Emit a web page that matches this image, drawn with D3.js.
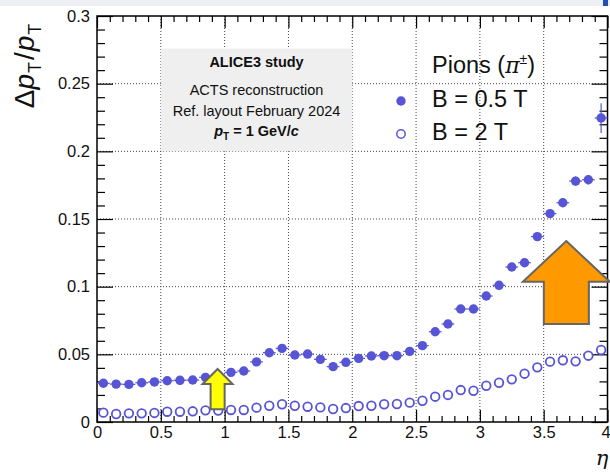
<!DOCTYPE html>
<html>
<head>
<meta charset="utf-8">
<script src="https://cdn.jsdelivr.net/npm/d3@7"></script>
<style>
html,body{margin:0;padding:0;background:#fff;}
svg{display:block;font-family:"Liberation Sans",Arial,Helvetica,sans-serif;}
</style>
</head>
<body>
<svg id="chart" width="610" height="475"></svg>
<script>
// ---- data ----
const etaBins = [0.05,0.15,0.25,0.35,0.45,0.55,0.65,0.75,0.85,0.95,
                 1.05,1.15,1.25,1.35,1.45,1.55,1.65,1.75,1.85,1.95,
                 2.05,2.15,2.25,2.35,2.45,2.55,2.65,2.75,2.85,2.95,
                 3.05,3.15,3.25,3.35,3.45,3.55,3.65,3.75,3.85,3.95];
const resB05 = [0.0286,0.0280,0.0278,0.0290,0.0296,0.0305,0.0308,0.0310,0.0330,0.0345,
                0.0367,0.0377,0.0444,0.0512,0.0544,0.0495,0.0502,0.0463,0.0409,0.0441,
                0.0470,0.0488,0.0490,0.0490,0.0522,0.0564,0.0667,0.0724,0.0835,0.0835,
                0.0931,0.1010,0.1145,0.1177,0.1370,0.1540,0.1620,0.1780,0.1790,0.2246];
const errB05 = [0.0003,0.0003,0.0003,0.0003,0.0003,0.0003,0.0003,0.0003,0.0003,0.0003,
                0.0003,0.0003,0.0003,0.0004,0.0004,0.0004,0.0004,0.0004,0.0004,0.0004,
                0.0004,0.0004,0.0004,0.0005,0.0005,0.0005,0.0006,0.0006,0.0008,0.0008,
                0.0009,0.0010,0.0012,0.0012,0.0015,0.0020,0.0025,0.0035,0.0035,0.0110];
const resB2  = [0.0069,0.0059,0.0064,0.0064,0.0067,0.0076,0.0076,0.0079,0.0086,0.0085,
                0.0089,0.0089,0.0106,0.0120,0.0131,0.0120,0.0113,0.0108,0.0096,0.0103,
                0.0118,0.0120,0.0131,0.0133,0.0143,0.0157,0.0187,0.0200,0.0236,0.0231,
                0.0268,0.0290,0.0315,0.0357,0.0404,0.0446,0.0456,0.0448,0.0490,0.0532];
const xMajorTicks = [0,0.5,1,1.5,2,2.5,3,3.5,4];
const yMajorTicks = [0,0.05,0.1,0.15,0.2,0.25,0.3];
const boxLines = ["ALICE3 study","ACTS reconstruction","Ref. layout February 2024"];
const legendLabels = ["B = 0.5 T","B = 2 T"];

// ---- setup ----
const svg = d3.select("#chart");
const color = "#5755d6";
const x = d3.scaleLinear().domain([0,4]).range([97,607.5]);
const y = d3.scaleLinear().domain([0,0.3]).range([422,16]);
const xMinor = d3.range(0,4.0001,0.1).filter(v=>Math.abs(v*2-Math.round(v*2))>1e-6);
const yMinor = d3.range(0,0.3001,0.01).filter(v=>Math.abs(v*20-Math.round(v*20))>1e-6);
const fmt = d3.format("~g");

// top screenshot strip
svg.append("rect").attr("x",0).attr("y",0).attr("width",610).attr("height",6).attr("fill","#eef0f4");
svg.append("rect").attr("x",603).attr("y",0).attr("width",5).attr("height",6).attr("fill","#1f4fb8");

// grid
const grid = svg.append("g").attr("stroke","#444").attr("stroke-width",1).attr("stroke-dasharray","1,2");
xMajorTicks.slice(1,-1).forEach(v=>{
  grid.append("line").attr("x1",x(v)).attr("x2",x(v)).attr("y1",y(0)).attr("y2",y(0.3));
});
yMajorTicks.slice(1,-1).forEach(v=>{
  grid.append("line").attr("x1",x(0)).attr("x2",x(4)).attr("y1",y(v)).attr("y2",y(v));
});

// info box
svg.append("rect").attr("x",x(0.5)).attr("y",y(0.276)).attr("width",x(2.0)-x(0.5))
   .attr("height",y(0.2)-y(0.276)).attr("fill","#efefef");
const cx = x(1.25);
const bl = [67,95,116];
boxLines.forEach((t,i)=>{
  svg.append("text").attr("x",cx).attr("y",bl[i]).attr("text-anchor","middle")
     .attr("font-size",14.5).attr("font-weight",i===0?"bold":"normal").attr("fill","#111").text(t);
});
const pt = svg.append("text").attr("x",cx).attr("y",136).attr("text-anchor","middle")
   .attr("font-size",14.5).attr("font-weight","bold").attr("fill","#111");
pt.append("tspan").attr("font-style","italic").text("p");
pt.append("tspan").attr("font-size",10).attr("dy",4).text("T");
pt.append("tspan").attr("dy",-4).text(" = 1 GeV/");
pt.append("tspan").attr("font-style","italic").text("c");

// axes
function styleAxis(g){ g.select(".domain").remove(); g.selectAll(".tick line").attr("stroke","#000").attr("stroke-width",1.2); g.selectAll("text").attr("font-size",16.5).attr("fill","#111").attr("font-family","Liberation Sans, Arial, sans-serif"); }
svg.append("g").attr("transform",`translate(0,${y(0)})`)
  .call(d3.axisBottom(x).tickValues(xMajorTicks).tickSize(-12).tickPadding(4).tickFormat(fmt)).call(styleAxis)
  .call(g=>g.selectAll(".tick text").filter(d=>d===4).attr("dx",-2));
svg.append("g").attr("transform",`translate(0,${y(0)})`)
  .call(d3.axisBottom(x).tickValues(xMinor).tickSize(-6).tickFormat("")).call(styleAxis);
svg.append("g").attr("transform",`translate(0,${y(0.3)})`)
  .call(d3.axisTop(x).tickValues(xMajorTicks).tickSize(-12).tickFormat("")).call(styleAxis);
svg.append("g").attr("transform",`translate(0,${y(0.3)})`)
  .call(d3.axisTop(x).tickValues(xMinor).tickSize(-6).tickFormat("")).call(styleAxis);
svg.append("g").attr("transform",`translate(${x(0)},0)`)
  .call(d3.axisLeft(y).tickValues(yMajorTicks).tickSize(-16).tickPadding(7).tickFormat(fmt)).call(styleAxis);
svg.append("g").attr("transform",`translate(${x(0)},0)`)
  .call(d3.axisLeft(y).tickValues(yMinor).tickSize(-8).tickFormat("")).call(styleAxis);
svg.append("g").attr("transform",`translate(${x(4)},0)`)
  .call(d3.axisRight(y).tickValues(yMajorTicks).tickSize(-16).tickFormat("")).call(styleAxis);
svg.append("g").attr("transform",`translate(${x(4)},0)`)
  .call(d3.axisRight(y).tickValues(yMinor).tickSize(-8).tickFormat("")).call(styleAxis);

// frame
svg.append("rect").attr("x",x(0)).attr("y",y(0.3)).attr("width",x(4)-x(0)).attr("height",y(0)-y(0.3))
   .attr("fill","none").attr("stroke","#000").attr("stroke-width",1.5);

// axis titles
const yt = svg.append("text").attr("transform",`translate(34,${y(0.3)+50}) rotate(-90)`)
   .attr("text-anchor","middle").attr("font-size",28).attr("fill","#111");
yt.append("tspan").text("Δ");
yt.append("tspan").attr("font-style","italic").text("p");
yt.append("tspan").attr("font-size",18).attr("dy",7).attr("dx",1).text("T");
yt.append("tspan").attr("dy",-7).attr("dx",2).text("/");
yt.append("tspan").attr("font-style","italic").attr("dx",1).text("p");
yt.append("tspan").attr("font-size",18).attr("dy",7).attr("dx",1).text("T");
svg.append("text").attr("x",602).attr("y",465).attr("text-anchor","middle").attr("font-size",21)
   .attr("font-style","italic").attr("font-family","DejaVu Serif, serif").attr("fill","#111").text("η");

// B = 2 T open markers
const half = 0.05;
svg.append("g").selectAll("circle").data(etaBins.map((e,i)=>[e,resB2[i]])).join("circle")
  .attr("cx",d=>x(d[0])).attr("cy",d=>y(d[1])).attr("r",4.3)
  .attr("fill","#fff").attr("stroke",color).attr("stroke-width",1.8);

// B = 0.5 T filled markers with errors
const gE = svg.append("g").attr("stroke",color).attr("stroke-width",1.2);
etaBins.forEach((e,i)=>{
  gE.append("line").attr("x1",x(e-half)).attr("x2",x(e+half)).attr("y1",y(resB05[i])).attr("y2",y(resB05[i]));
  gE.append("line").attr("x1",x(e)).attr("x2",x(e)).attr("y1",y(resB05[i]-errB05[i])).attr("y2",y(resB05[i]+errB05[i]));
});
svg.append("g").selectAll("circle").data(etaBins.map((e,i)=>[e,resB05[i]])).join("circle")
  .attr("cx",d=>x(d[0])).attr("cy",d=>y(d[1])).attr("r",4.7).attr("fill",color);

// legend
svg.append("text").attr("x",432).attr("y",73).attr("font-size",23.5).attr("fill","#111")
  .call(t=>{ t.append("tspan").text("Pions (");
             t.append("tspan").attr("font-style","italic").attr("font-family","DejaVu Serif, serif").attr("font-size",22).text("π");
             t.append("tspan").attr("font-size",14).attr("dy",-9).text("±");
             t.append("tspan").attr("dy",9).text(")"); });
svg.append("circle").attr("cx",401).attr("cy",101).attr("r",4.7).attr("fill",color);
svg.append("circle").attr("cx",401).attr("cy",134).attr("r",4.2).attr("fill","#fff").attr("stroke",color).attr("stroke-width",1.5);
legendLabels.forEach((t,i)=>{
  svg.append("text").attr("x",432).attr("y",[107,140][i]).attr("font-size",23.5).attr("fill","#111").text(t);
});

// arrows (annotation, in data coordinates)
function arrow(tipX,tipY,headY,headL,headR,shaftL,shaftR,baseY,fill){
  const pts=[[tipX,tipY],[headR,headY],[shaftR,headY],[shaftR,baseY],[shaftL,baseY],[shaftL,headY],[headL,headY]];
  svg.append("polygon").attr("points",pts.map(p=>[x(p[0]),y(p[1])].join(",")).join(" "))
    .attr("fill",fill).attr("stroke","#666").attr("stroke-width",2).attr("stroke-linejoin","miter");
}
arrow(0.945,0.0392,0.0281,0.827,1.062,0.89,1.0,0.0094,"#ffff00");
arrow(3.677,0.1337,0.1037,3.337,4.017,3.501,3.854,0.0724,"#ff9900");
</script>
</body>
</html>
